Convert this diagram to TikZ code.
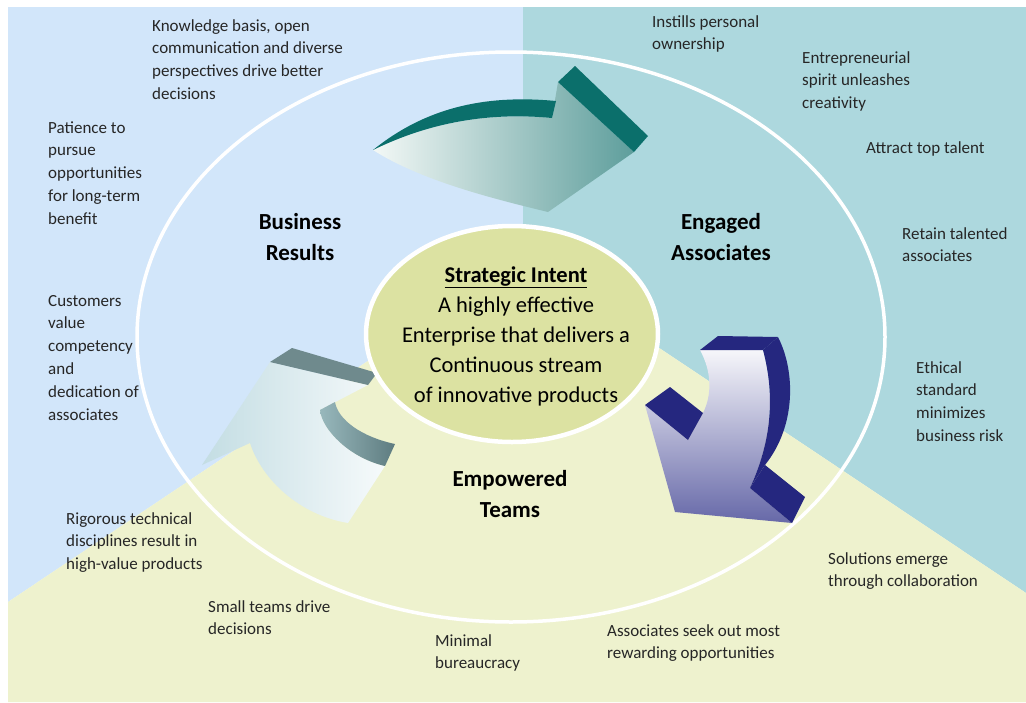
\documentclass[tikz,border=0pt]{standalone}
\usepackage{fontspec}
\setmainfont{Carlito}
\usetikzlibrary{shapes,backgrounds}

\definecolor{skyblue}{HTML}{D2E6FA}
\definecolor{seagreen}{HTML}{ADD8DE}
\definecolor{paleyellow}{HTML}{EEF2CE}
\definecolor{coreyellow}{HTML}{DCE2A2}
\definecolor{tealwhite}{HTML}{F3F8F6}
\definecolor{midteal}{HTML}{5E9E9C}
\definecolor{darkteal}{HTML}{0B6F6B}
\definecolor{navywhite}{HTML}{F6F6FA}
\definecolor{lightnavy}{HTML}{6668A8}
\definecolor{navy}{HTML}{25277F}
\definecolor{slatewhite}{HTML}{F6FAFB}
\definecolor{paleslate}{HTML}{C3DDE3}
\definecolor{midslate}{HTML}{98B8BC}
\definecolor{deepslate}{HTML}{5E7C80}
\definecolor{slate}{HTML}{6F8A8D}
\definecolor{inktext}{HTML}{262626}

\begin{document}
\begin{tikzpicture}[x=1pt,y=-1pt,
  note/.style={font=\fontsize{17}{22.8}\selectfont, align=left, anchor=base west, inner sep=0pt, text=inktext},
  heading/.style={font=\fontsize{23}{31}\selectfont\bfseries, align=center, anchor=base, inner sep=0pt},
  core/.style={font=\fontsize{22.5}{30}\selectfont, align=center, anchor=base, inner sep=0pt}]
\useasboundingbox (0,0) rectangle (1026,702);
\fill[white] (0,0) rectangle (1026,702);
% three sectors
\fill[skyblue] (8,7) -- (523,7) -- (523,257) -- (8,602) -- cycle;
\fill[seagreen] (523,7) -- (1026,7) -- (1026,593) -- (523,257) -- cycle;
\fill[paleyellow] (8,602) -- (523,257) -- (1026,593) -- (1026,702) -- (8,702) -- cycle;
\draw[white, line width=3.5pt] (511,337) ellipse [x radius=374pt, y radius=285pt];

% top arrow
\shade[left color=tealwhite, right color=midteal] (373,150) .. controls (430,122) and (490,112) .. (552,118) -- (558,82) -- (634,152) -- (548,212) .. controls (490,198) and (420,180) .. (373,150) -- cycle;
\fill[darkteal] (373,150) .. controls (430,122) and (490,112) .. (552,118) -- (556,101) .. controls (492,95) and (430,104) .. (373,150) -- cycle;
\fill[darkteal] (558,82) -- (575,66) -- (648,136) -- (634,152) -- cycle;

% right arrow
\shade[top color=navywhite, bottom color=lightnavy] (700,350) -- (763,350) .. controls (775,395) and (772,440) .. (750,488) -- (792,523) -- (675,512) -- (645,405) -- (688,440) -- (703,413) .. controls (712,395) and (712,372) .. (700,350) -- cycle;
\fill[navy] (700,350) -- (718,336) -- (778,337) -- (763,350) -- cycle;
\fill[navy] (763,350) .. controls (775,395) and (772,440) .. (750,488) -- (765,465) .. controls (797,425) and (795,370) .. (778,337) -- cycle;
\fill[navy] (750,488) -- (765,465) -- (805,497) -- (792,523) -- cycle;
\fill[navy] (645,405) -- (670,387) -- (703,413) -- (688,440) -- cycle;

% left arrow
\shade[left color=paleslate, right color=slatewhite] (270,362) -- (368,385) -- (320,410) .. controls (322,430) and (350,458) .. (385,466) -- (348,523) .. controls (300,515) and (262,480) .. (250,443) -- (202,465) -- cycle;
\fill[slate] (270,362) -- (292,348) -- (377,373) -- (368,385) -- cycle;
\shade[left color=midslate, right color=deepslate] (320,410) .. controls (322,430) and (350,458) .. (385,466) -- (395,444) .. controls (362,437) and (338,420) .. (335,402) -- cycle;

% centre (nodes sit on the baseline of their last line)
\node (intent) [ellipse, draw=white, line width=4.5pt, fill=coreyellow, minimum width=292pt, minimum height=216pt, inner sep=0pt] at (512,334) {};
\node (intenttext) [core] at (516,402) {\textbf{\underline{Strategic Intent}}\\A highly effective\\Enterprise that delivers a\\Continuous stream\\of innovative products};

\node (results) [heading] at (300,260) {Business\\Results};
\node (associates) [heading] at (721,260) {Engaged\\Associates};
\node (teams) [heading] at (510,517) {Empowered\\Teams};

\node (knowledge) [note] at (152,99.4) {Knowledge basis, open\\communication and diverse\\perspectives drive better\\decisions};
\node (patience) [note] at (48,224.2) {Patience to\\pursue\\opportunities\\for long-term\\benefit};
\node (customers) [note] at (48,420) {Customers\\value\\competency\\and\\dedication of\\associates};
\node (rigorous) [note] at (66,569.6) {Rigorous technical\\disciplines result in\\high-value products};
\node (smallteams) [note] at (208,634.8) {Small teams drive\\decisions};
\node (minimal) [note] at (435,668.8) {Minimal\\bureaucracy};
\node (seekout) [note] at (607,658.8) {Associates seek out most\\rewarding opportunities};
\node (solutions) [note] at (828,586.8) {Solutions emerge\\through collaboration};
\node (ethical) [note] at (916,441.4) {Ethical\\standard\\minimizes\\business risk};
\node (retain) [note] at (902,261.8) {Retain talented\\associates};
\node (attract) [note] at (866,153) {Attract top talent};
\node (entrepreneurial) [note] at (802,108.6) {Entrepreneurial\\spirit unleashes\\creativity};
\node (instills) [note] at (652,49.8) {Instills personal\\ownership};
\end{tikzpicture}
\end{document}
